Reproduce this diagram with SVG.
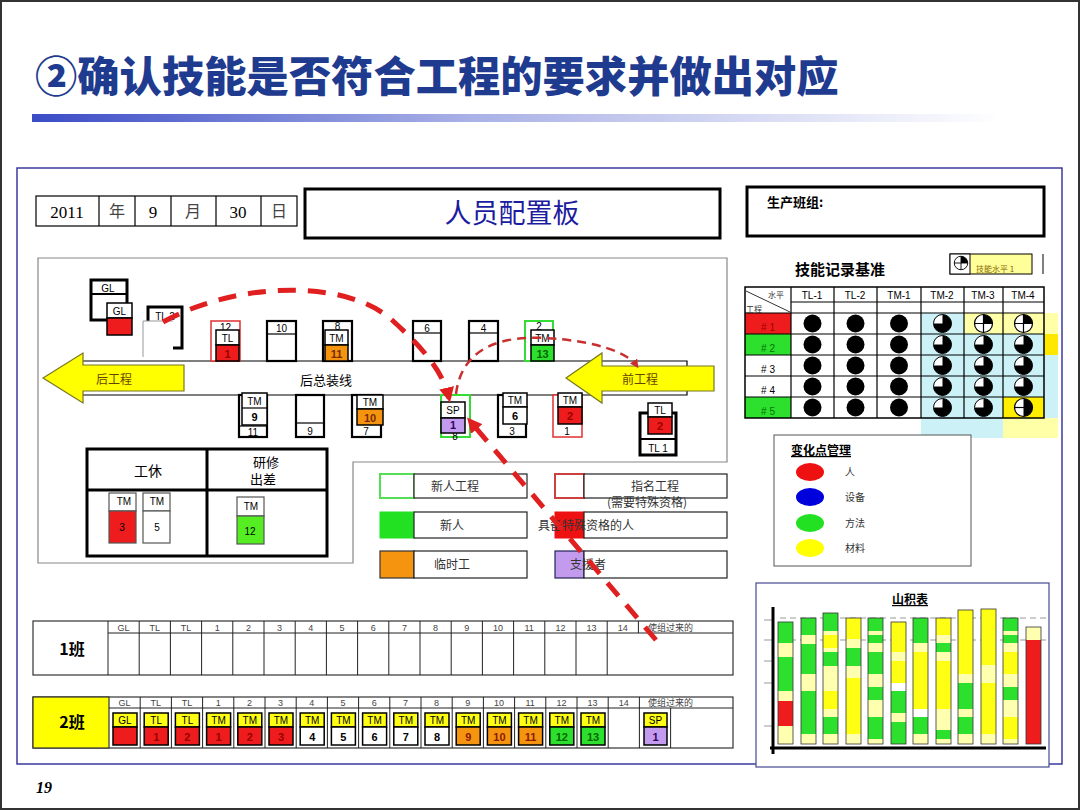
<svg xmlns="http://www.w3.org/2000/svg" width="1080" height="810" viewBox="0 0 1080 810">
<style>
.cjk{font-family:"Noto Sans CJK SC","Noto Sans",sans-serif}
.lat{font-family:"Liberation Sans",Arial,sans-serif}
.ser{font-family:"Liberation Serif","Noto Sans CJK SC",serif}
.st{fill:#fff;stroke:#000;stroke-width:2.2}
.cd{stroke:#000;stroke-width:1.5}
.ln{stroke:#000;stroke-width:1.2;fill:none}
.tl{stroke:#222;stroke-width:1;fill:none}
.hd{font-family:"Liberation Sans",Arial,sans-serif;font-size:9px;fill:#444;text-anchor:middle}
.tm{font-family:"Liberation Sans",Arial,sans-serif;font-size:10px;fill:#000;text-anchor:middle}
.nm{font-family:"Liberation Sans",Arial,sans-serif;font-size:11px;font-weight:bold;text-anchor:middle}
.lg{font-family:"Noto Sans CJK SC",sans-serif;font-size:12px;fill:#333;text-anchor:middle}
.G{fill:#2EE02E}.Y{fill:#FFFF14}.L{fill:#FFFFB0}.R{fill:#EE1C1C}.W{fill:#FFFFFF}.O{fill:#F5950F}.P{fill:#C39BEE}
</style>
<defs>
<linearGradient id="gbar" x1="0" x2="1" y1="0" y2="0"><stop offset="0" stop-color="#3B4CC6"/><stop offset="0.45" stop-color="#A9B1E6"/><stop offset="1" stop-color="#FFFFFF"/></linearGradient>
<marker id="ah" viewBox="0 0 10 10" refX="7" refY="5" markerWidth="3" markerHeight="3" orient="auto"><path d="M0,0 L10,5 L0,10 Z" fill="#E02020"/></marker>
<marker id="ah2" viewBox="0 0 10 10" refX="7" refY="5" markerWidth="3.5" markerHeight="3.5" orient="auto"><path d="M0,0 L10,5 L0,10 Z" fill="#C83030"/></marker>
<g id="cf"><circle r="9" fill="#000"/></g>
<g id="c3"><circle r="9" fill="#fff" stroke="#000" stroke-width="1"/><path d="M0,0 V-9 A9,9 0 1 1 -9,0 Z" fill="#000"/></g>
<g id="c1"><circle r="9" fill="#fff" stroke="#000" stroke-width="1.2"/><path d="M0,0 V-9 A9,9 0 0 1 9,0 Z" fill="#000"/><path d="M-9,0 H9 M0,-9 V9" stroke="#000" stroke-width="1.2"/></g>
<g id="c2"><circle r="9" fill="#fff" stroke="#000" stroke-width="1.2"/><path d="M0,-9 A9,9 0 0 1 0,9 Z" fill="#000"/><path d="M-9,0 H9" stroke="#000" stroke-width="1.2"/></g>
</defs>

<rect x="0" y="0" width="1080" height="810" fill="#fff"/>
<rect x="1" y="1" width="1078" height="808" fill="none" stroke="#333" stroke-width="2"/>

<g id="title">
<text x="35" y="92" class="cjk" font-size="42.3" font-weight="900" fill="#1F3B8F">②确认技能是否符合工程的要求并做出对应</text>
<rect x="32" y="114" width="970" height="8" fill="url(#gbar)"/>
</g>

<rect id="frame" x="17" y="168" width="1045" height="596" fill="none" stroke="#3A3AA0" stroke-width="1.5"/>

<g id="date">
<rect x="36" y="196" width="261" height="30" fill="#fff" stroke="#000" stroke-width="1.2"/>
<path class="ln" d="M99,196 V226 M135,196 V226 M171,196 V226 M216,196 V226 M261,196 V226"/>
<text x="67" y="218" class="ser" font-size="17" text-anchor="middle">2011</text>
<text x="117" y="217" class="cjk" font-size="16" fill="#444" text-anchor="middle">年</text>
<text x="153" y="218" class="ser" font-size="17" text-anchor="middle">9</text>
<text x="193" y="217" class="cjk" font-size="16" fill="#444" text-anchor="middle">月</text>
<text x="238" y="218" class="ser" font-size="17" text-anchor="middle">30</text>
<text x="279" y="217" class="cjk" font-size="16" fill="#444" text-anchor="middle">日</text>
</g>

<g id="boardTitle">
<rect x="305" y="189" width="415" height="49" fill="#fff" stroke="#000" stroke-width="3"/>
<text x="512" y="223" class="cjk" font-size="27" fill="#1C1CA0" text-anchor="middle">人员配置板</text>
</g>

<g id="team">
<rect x="747" y="187" width="297" height="49" fill="#fff" stroke="#000" stroke-width="3"/>
<text x="767" y="207" class="cjk" font-size="13" font-weight="bold">生产班组:</text>
</g>

<g id="skillTable">
<text x="795" y="275" class="cjk" font-size="15" font-weight="bold">技能记录基准</text>
<rect x="950" y="254" width="82" height="20" fill="#FFFF99" stroke="#000" stroke-width="1"/>
<rect x="950" y="254" width="20" height="20" fill="#fff" stroke="#000" stroke-width="1"/>
<use href="#c1" transform="translate(961,263) scale(0.75)"/>
<text x="976" y="272" class="cjk" font-size="8" fill="#886600">技能水平 1</text>
<line x1="1043" y1="254" x2="1043" y2="274" stroke="#000" stroke-width="1"/>
<rect x="921" y="313" width="82" height="125" fill="#CCF2F8"/>
<rect x="1003" y="334" width="55" height="84" fill="#CCF2F8"/>
<rect x="964" y="313" width="94" height="21" fill="#FFFFA8"/>
<rect x="1044" y="334" width="14" height="21" fill="#FFE800"/>
<rect x="1003" y="397" width="41" height="21" fill="#FFEE00"/>
<rect x="1003" y="418" width="55" height="20" fill="#FFFFA8"/>
<rect x="745" y="313" width="46" height="21" fill="#EE1C1C"/>
<rect x="745" y="334" width="46" height="21" fill="#2EE02E"/>
<rect x="745" y="397" width="46" height="21" fill="#2EE02E"/>
<rect x="745" y="287" width="299" height="131" fill="none" stroke="#000" stroke-width="1.5"/>
<path class="ln" d="M791,302 H1044 M745,313 H1044 M745,334 H1044 M745,355 H1044 M745,376 H1044 M745,397 H1044 M791,287 V418 M834,287 V418 M877,287 V418 M921,287 V418 M964,287 V418 M1003,287 V418"/>
<line x1="746" y1="291" x2="790" y2="312" stroke="#000" stroke-width="0.8"/>
<text x="776" y="298" class="cjk" font-size="8" fill="#333" text-anchor="middle">水平</text>
<text x="754" y="312" class="cjk" font-size="8" fill="#333" text-anchor="middle">工程</text>
<g class="lat" font-size="10" text-anchor="middle">
<text x="812" y="299">TL-1</text><text x="855" y="299">TL-2</text><text x="899" y="299">TM-1</text><text x="942" y="299">TM-2</text><text x="983" y="299">TM-3</text><text x="1023" y="299">TM-4</text>
<text x="768" y="331" fill="#A00000"># 1</text><text x="768" y="352" fill="#007000"># 2</text><text x="768" y="373"># 3</text><text x="768" y="394"># 4</text><text x="768" y="415" fill="#007000"># 5</text>
</g>
<use href="#cf" x="812.5" y="323.5"/><use href="#cf" x="855.5" y="323.5"/><use href="#cf" x="899" y="323.5"/><use href="#c3" x="942.5" y="323.5"/><use href="#c1" x="983.5" y="323.5"/><use href="#c1" x="1023.5" y="323.5"/>
<use href="#cf" x="812.5" y="344.5"/><use href="#cf" x="855.5" y="344.5"/><use href="#cf" x="899" y="344.5"/><use href="#c3" x="942.5" y="344.5"/><use href="#c3" x="983.5" y="344.5"/><use href="#c3" x="1023.5" y="344.5"/>
<use href="#cf" x="812.5" y="365.5"/><use href="#cf" x="855.5" y="365.5"/><use href="#cf" x="899" y="365.5"/><use href="#c3" x="942.5" y="365.5"/><use href="#c3" x="983.5" y="365.5"/><use href="#c3" x="1023.5" y="365.5"/>
<use href="#cf" x="812.5" y="386.5"/><use href="#cf" x="855.5" y="386.5"/><use href="#cf" x="899" y="386.5"/><use href="#c3" x="942.5" y="386.5"/><use href="#c3" x="983.5" y="386.5"/><use href="#c3" x="1023.5" y="386.5"/>
<use href="#cf" x="812.5" y="407.5"/><use href="#cf" x="855.5" y="407.5"/><use href="#cf" x="899" y="407.5"/><use href="#c3" x="942.5" y="407.5"/><use href="#c3" x="983.5" y="407.5"/><use href="#c2" x="1023.5" y="407.5"/>
</g>

<g id="changePoint">
<rect x="774" y="435" width="197" height="131" fill="#fff" stroke="#555" stroke-width="1"/>
<text x="791" y="455" class="cjk" font-size="12" font-weight="bold" text-decoration="underline">变化点管理</text>
<ellipse cx="810" cy="472" rx="14" ry="9" fill="#EE1111"/>
<ellipse cx="810" cy="497" rx="14" ry="9" fill="#0000DD"/>
<ellipse cx="810" cy="523" rx="14" ry="9" fill="#22E022"/>
<ellipse cx="810" cy="548" rx="14" ry="9" fill="#FFFF00"/>
<g class="cjk" font-size="10" fill="#333"><text x="845" y="476">人</text><text x="845" y="501">设备</text><text x="845" y="527">方法</text><text x="845" y="552">材料</text></g>
</g>

<g id="mountain">
<rect x="756" y="583" width="293" height="184" fill="#fff" stroke="#444A90" stroke-width="1.2"/>
<text x="910" y="604" class="cjk" font-size="12" font-weight="bold" text-anchor="middle" text-decoration="underline">山积表</text>
<path d="M780,618 H1050 M780,640 H1050" stroke="#999" stroke-width="1" stroke-dasharray="6 4" fill="none"/>
<path d="M764,620 H773 M764,640 H773 M764,661 H773 M764,683 H773 M764,726 H773" stroke="#999" stroke-width="1"/>
<g>
<rect x="778" y="622" width="15" height="21" class="G"/><rect x="778" y="643" width="15" height="14" class="L"/><rect x="778" y="657" width="15" height="34" class="G"/><rect x="778" y="691" width="15" height="10" class="L"/><rect x="778" y="701" width="15" height="25" class="R"/><rect x="778" y="726" width="15" height="18" class="L"/>
<rect x="801" y="618" width="15" height="17" class="G"/><rect x="801" y="635" width="15" height="9" class="L"/><rect x="801" y="644" width="15" height="30" class="G"/><rect x="801" y="674" width="15" height="17" class="L"/><rect x="801" y="691" width="15" height="43" class="G"/><rect x="801" y="734" width="15" height="10" class="L"/>
<rect x="823" y="613" width="15" height="18" class="G"/><rect x="823" y="631" width="15" height="4" class="L"/><rect x="823" y="635" width="15" height="13" class="Y"/><rect x="823" y="648" width="15" height="4" class="L"/><rect x="823" y="652" width="15" height="14" class="G"/><rect x="823" y="666" width="15" height="25" class="L"/><rect x="823" y="691" width="15" height="18" class="Y"/><rect x="823" y="709" width="15" height="8" class="L"/><rect x="823" y="717" width="15" height="17" class="G"/><rect x="823" y="734" width="15" height="10" class="L"/>
<rect x="846" y="618" width="15" height="21" class="Y"/><rect x="846" y="639" width="15" height="9" class="L"/><rect x="846" y="648" width="15" height="18" class="G"/><rect x="846" y="666" width="15" height="12" class="L"/><rect x="846" y="678" width="15" height="56" class="Y"/><rect x="846" y="734" width="15" height="10" class="L"/>
<rect x="868" y="618" width="15" height="13" class="G"/><rect x="868" y="631" width="15" height="4" class="L"/><rect x="868" y="635" width="15" height="8" class="G"/><rect x="868" y="643" width="15" height="9" class="L"/><rect x="868" y="652" width="15" height="22" class="G"/><rect x="868" y="674" width="15" height="13" class="L"/><rect x="868" y="687" width="15" height="13" class="G"/><rect x="868" y="700" width="15" height="17" class="L"/><rect x="868" y="717" width="15" height="22" class="G"/><rect x="868" y="739" width="15" height="5" class="L"/>
<rect x="891" y="622" width="15" height="30" class="Y"/><rect x="891" y="652" width="15" height="9" class="L"/><rect x="891" y="661" width="15" height="22" class="Y"/><rect x="891" y="683" width="15" height="8" class="W"/><rect x="891" y="691" width="15" height="22" class="G"/><rect x="891" y="713" width="15" height="9" class="L"/><rect x="891" y="722" width="15" height="22" class="G"/>
<rect x="913" y="618" width="15" height="25" class="G"/><rect x="913" y="643" width="15" height="9" class="L"/><rect x="913" y="652" width="15" height="57" class="Y"/><rect x="913" y="709" width="15" height="8" class="W"/><rect x="913" y="717" width="15" height="17" class="G"/><rect x="913" y="734" width="15" height="10" class="L"/>
<rect x="936" y="618" width="15" height="17" class="Y"/><rect x="936" y="635" width="15" height="8" class="L"/><rect x="936" y="643" width="15" height="9" class="G"/><rect x="936" y="652" width="15" height="9" class="L"/><rect x="936" y="661" width="15" height="48" class="Y"/><rect x="936" y="709" width="15" height="21" class="L"/><rect x="936" y="730" width="15" height="9" class="G"/><rect x="936" y="739" width="15" height="5" class="L"/>
<rect x="958" y="610" width="15" height="64" class="Y"/><rect x="958" y="674" width="15" height="9" class="L"/><rect x="958" y="683" width="15" height="26" class="G"/><rect x="958" y="709" width="15" height="8" class="L"/><rect x="958" y="717" width="15" height="17" class="G"/><rect x="958" y="734" width="15" height="10" class="L"/>
<rect x="981" y="609" width="15" height="56" class="Y"/><rect x="981" y="665" width="15" height="18" class="L"/><rect x="981" y="683" width="15" height="51" class="Y"/><rect x="981" y="734" width="15" height="10" class="L"/>
<rect x="1003" y="618" width="15" height="13" class="G"/><rect x="1003" y="631" width="15" height="4" class="L"/><rect x="1003" y="635" width="15" height="8" class="G"/><rect x="1003" y="643" width="15" height="9" class="L"/><rect x="1003" y="652" width="15" height="22" class="Y"/><rect x="1003" y="674" width="15" height="13" class="L"/><rect x="1003" y="687" width="15" height="13" class="G"/><rect x="1003" y="700" width="15" height="17" class="L"/><rect x="1003" y="717" width="15" height="22" class="Y"/><rect x="1003" y="739" width="15" height="5" class="L"/>
<rect x="1026" y="627" width="15" height="13" class="L"/><rect x="1026" y="640" width="15" height="104" class="R"/>
</g>
<g fill="none" stroke="#333" stroke-width="0.8">
<rect x="778" y="622" width="15" height="122"/><rect x="801" y="618" width="15" height="126"/><rect x="823" y="613" width="15" height="131"/><rect x="846" y="618" width="15" height="126"/><rect x="868" y="618" width="15" height="126"/><rect x="891" y="622" width="15" height="122"/><rect x="913" y="618" width="15" height="126"/><rect x="936" y="618" width="15" height="126"/><rect x="958" y="610" width="15" height="134"/><rect x="981" y="609" width="15" height="135"/><rect x="1003" y="618" width="15" height="126"/><rect x="1026" y="627" width="15" height="117"/>
</g>
<line x1="773" y1="607" x2="773" y2="754" stroke="#000" stroke-width="3"/>
<line x1="770" y1="748" x2="1046" y2="748" stroke="#000" stroke-width="3"/>
</g>

<g id="layout">
<path d="M38,258 H727 V462 H353 V563 H38 Z" fill="#fff" stroke="#888" stroke-width="1.2"/>
<path class="ln" d="M83,361 H687 V366 M83,395 H687 V391"/>
<text x="326" y="385" class="cjk" font-size="13" text-anchor="middle">后总装线</text>
</g>

<g id="arrowBack">
<path d="M43,378 L83,353 V365 H184 V391 H83 V403 Z" fill="#FFFF00" stroke="#777722" stroke-width="1.2"/>
<text x="114" y="384" class="cjk" font-size="12" fill="#664400" text-anchor="middle">后工程</text>
</g>
<g id="arrowFront">
<path d="M566,378 L602,353 V366 H714 V391 H602 V403 Z" fill="#FFFF00" stroke="#777722" stroke-width="1.2"/>
<text x="640" y="384" class="cjk" font-size="12" fill="#664400" text-anchor="middle">前工程</text>
</g>

<g id="stGL">
<rect x="91" y="280" width="36" height="40" fill="#fff" stroke="#000" stroke-width="3"/>
<line x1="91" y1="294" x2="127" y2="294" stroke="#000" stroke-width="2"/>
<text x="108" y="292" class="tm">GL</text>
<rect x="107" y="303" width="25" height="15" fill="#fff" class="cd"/>
<rect x="107" y="318" width="25" height="17" class="cd R"/>
<text x="119.5" y="315" class="tm">GL</text>
</g>
<g id="stTL2">
<rect x="148" y="307" width="34" height="41" fill="#fff" stroke="#000" stroke-width="3"/>
<text x="165" y="320" class="tm">TL 2</text>
<rect x="143" y="321" width="30" height="36" fill="#fff"/>
<path d="M143,357 V321 H173" fill="none" stroke="#999" stroke-width="1"/>
</g>
<g id="st12">
<rect x="211" y="321" width="29" height="40" fill="#fff" stroke="#E03030" stroke-width="1.5"/>
<text x="225.5" y="331" class="tm">12</text>
<rect x="216" y="330" width="23" height="15" fill="#fff" class="cd"/>
<rect x="216" y="345" width="23" height="16" class="cd R"/>
<text x="227.5" y="342" class="tm">TL</text><text x="227.5" y="358" class="nm" fill="#900">1</text>
</g>
<g id="st10">
<rect x="267" y="321" width="29" height="40" class="st"/>
<line x1="267" y1="334" x2="296" y2="334" stroke="#000" stroke-width="1.2"/>
<text x="281.5" y="332" class="tm">10</text>
</g>
<g id="st8">
<rect x="323" y="321" width="29" height="40" class="st"/>
<text x="337.5" y="330" class="tm">8</text>
<rect x="325" y="330" width="23" height="15" fill="#fff" class="cd"/>
<rect x="325" y="345" width="23" height="16" class="cd O"/>
<text x="336.5" y="342" class="tm">TM</text><text x="336.5" y="358" class="nm" fill="#7A2A00">11</text>
</g>
<g id="st6">
<rect x="413" y="321" width="28" height="40" class="st"/>
<line x1="413" y1="333" x2="441" y2="333" stroke="#000" stroke-width="1.2"/>
<text x="427" y="332" class="tm">6</text>
</g>
<g id="st4">
<rect x="469" y="321" width="29" height="40" class="st"/>
<line x1="469" y1="333" x2="498" y2="333" stroke="#000" stroke-width="1.2"/>
<text x="483.5" y="332" class="tm">4</text>
</g>
<g id="st2">
<rect x="525" y="321" width="28" height="40" fill="#fff" stroke="#33DD33" stroke-width="2"/>
<text x="539" y="330" class="tm">2</text>
<rect x="531" y="330" width="23" height="15" fill="#fff" class="cd"/>
<rect x="531" y="345" width="23" height="16" class="cd G"/>
<text x="542.5" y="342" class="tm">TM</text><text x="542.5" y="358" class="nm" fill="#006600">13</text>
</g>
<g id="st11">
<rect x="239" y="395" width="28" height="42" class="st"/>
<line x1="239" y1="426" x2="267" y2="426" stroke="#000" stroke-width="1.2"/>
<text x="253" y="436" class="tm">11</text>
<rect x="242" y="393" width="25" height="32" fill="#fff" class="cd"/>
<line x1="242" y1="408" x2="267" y2="408" stroke="#000" stroke-width="1.2"/>
<text x="254.5" y="405" class="tm">TM</text><text x="254.5" y="421" class="nm">9</text>
</g>
<g id="st9">
<rect x="296" y="395" width="28" height="42" class="st"/>
<line x1="296" y1="423" x2="324" y2="423" stroke="#000" stroke-width="1.2"/>
<text x="310" y="435" class="tm">9</text>
</g>
<g id="st7">
<rect x="352" y="395" width="29" height="42" class="st"/>
<text x="366" y="435" class="tm">7</text>
<rect x="357" y="395" width="26" height="14" fill="#fff" class="cd"/>
<rect x="357" y="409" width="26" height="16" class="cd O"/>
<text x="370" y="406" class="tm">TM</text><text x="370" y="422" class="nm" fill="#7A2A00">10</text>
</g>
<g id="stSP">
<rect x="441" y="395" width="29" height="42" fill="#fff" stroke="#33DD33" stroke-width="2"/>
<text x="455" y="440" class="tm" font-size="6.5">8</text>
<rect x="441" y="402" width="24" height="16" fill="#fff" class="cd"/>
<rect x="441" y="418" width="24" height="15" class="cd P"/>
<text x="453" y="414" class="tm">SP</text><text x="453" y="429" class="nm" fill="#330066">1</text>
</g>
<g id="st3">
<rect x="498" y="395" width="28" height="42" class="st"/>
<text x="512" y="435" class="tm">3</text>
<rect x="503" y="393" width="24" height="14" fill="#fff" class="cd"/>
<rect x="503" y="407" width="24" height="17" fill="#fff" class="cd"/>
<text x="515" y="404" class="tm">TM</text><text x="515" y="420" class="nm">6</text>
</g>
<g id="st1">
<rect x="553" y="395" width="29" height="42" fill="#fff" stroke="#E03030" stroke-width="1.5"/>
<text x="567" y="435" class="tm">1</text>
<rect x="558" y="393" width="24" height="14" fill="#fff" class="cd"/>
<rect x="558" y="407" width="24" height="17" class="cd R"/>
<text x="570" y="404" class="tm">TM</text><text x="570" y="420" class="nm" fill="#900">2</text>
</g>
<g id="stTL1">
<rect x="640" y="413" width="36" height="42" fill="#fff" stroke="#000" stroke-width="3"/>
<line x1="640" y1="439" x2="676" y2="439" stroke="#000" stroke-width="2"/>
<text x="658" y="452" class="tm">TL 1</text>
<rect x="648" y="403" width="24" height="14" fill="#fff" class="cd"/>
<rect x="648" y="417" width="24" height="17" class="cd R"/>
<text x="660" y="414" class="tm">TL</text><text x="660" y="430" class="nm" fill="#900">2</text>
</g>

<g id="rest">
<rect x="87" y="449" width="240" height="107" fill="#fff" stroke="#000" stroke-width="3"/>
<path d="M207,449 V556 M87,490 H327" stroke="#000" stroke-width="3"/>
<text x="148" y="476" class="cjk" font-size="14" text-anchor="middle">工休</text>
<text x="266" y="467" class="cjk" font-size="13" text-anchor="middle">研修</text>
<text x="263" y="484" class="cjk" font-size="13" text-anchor="middle">出差</text>
<rect x="109" y="493" width="27" height="18" fill="#fff" stroke="#555" stroke-width="1.2"/>
<rect x="109" y="511" width="27" height="32" fill="#EE1C1C" stroke="#555" stroke-width="1.2"/>
<text x="124" y="505" class="tm" font-size="9">TM</text><text x="122" y="531" class="tm" fill="#C00000">3</text>
<rect x="143" y="493" width="27" height="18" fill="#fff" stroke="#555" stroke-width="1.2"/>
<rect x="143" y="511" width="27" height="32" fill="#fff" stroke="#555" stroke-width="1.2"/>
<text x="157" y="505" class="tm" font-size="9">TM</text><text x="157" y="531" class="tm">5</text>
<rect x="237" y="497" width="27" height="19" fill="#fff" stroke="#555" stroke-width="1.2"/>
<rect x="237" y="516" width="27" height="28" fill="#55EE22" stroke="#555" stroke-width="1.2"/>
<text x="251" y="510" class="tm" font-size="9">TM</text><text x="250" y="535" class="tm" font-size="9" fill="#114400">12</text>
</g>

<g id="legend">
<rect x="380" y="474" width="34" height="24" fill="#fff" stroke="#55DD55" stroke-width="2"/>
<rect x="414" y="474" width="113" height="24" fill="#fff" stroke="#222" stroke-width="1.2"/>
<text x="455" y="491" class="lg">新人工程</text>
<rect x="555" y="474" width="29" height="24" fill="#fff" stroke="#CC4040" stroke-width="2"/>
<rect x="584" y="474" width="143" height="24" fill="#fff" stroke="#222" stroke-width="1.2"/>
<text x="655" y="491" class="lg">指名工程</text>
<text x="647" y="507" class="lg">(需要特殊资格)</text>
<rect x="380" y="512" width="34" height="26" fill="#22E022" stroke="#22E022" stroke-width="1"/>
<rect x="414" y="512" width="113" height="26" fill="#fff" stroke="#222" stroke-width="1.2"/>
<text x="452" y="530" class="lg">新人</text>
<rect x="555" y="512" width="29" height="26" fill="#EE1111" stroke="#EE1111" stroke-width="1"/>
<rect x="584" y="512" width="143" height="26" fill="#fff" stroke="#222" stroke-width="1.2"/>
<text x="586" y="530" class="lg" text-anchor="start">具备特殊资格的人</text>
<rect x="380" y="551" width="34" height="27" fill="#F5950F" stroke="#333" stroke-width="1.2"/>
<rect x="414" y="551" width="113" height="27" fill="#fff" stroke="#222" stroke-width="1.2"/>
<text x="452" y="569" class="lg">临时工</text>
<rect x="555" y="551" width="29" height="27" fill="#C39BEE" stroke="#222255" stroke-width="1.2"/>
<rect x="584" y="551" width="143" height="27" fill="#fff" stroke="#222" stroke-width="1.2"/>
<text x="588" y="569" class="lg" text-anchor="start" fill="#222">支援者</text>
</g>

<g id="row1">
<rect x="33" y="621" width="700" height="54" fill="#fff" stroke="#333" stroke-width="1.2"/>
<path class="tl" d="M108,621 V675 M108,633 H733 M139.2,621 V675 M170.4,621 V675 M201.6,621 V675 M232.8,621 V675 M264,621 V675 M295.2,621 V675 M326.4,621 V675 M357.6,621 V675 M388.8,621 V675 M420,621 V675 M451.2,621 V675 M482.4,621 V675 M513.6,621 V675 M544.8,621 V675 M576,621 V675 M607.2,621 V675 M638.4,621 V633"/>
<text x="72" y="655" class="cjk" font-size="16" font-weight="bold" text-anchor="middle">1班</text>
<text x="123.6" y="631" class="hd">GL</text><text x="154.8" y="631" class="hd">TL</text><text x="186" y="631" class="hd">TL</text><text x="217.2" y="631" class="hd">1</text><text x="248.4" y="631" class="hd">2</text><text x="279.6" y="631" class="hd">3</text><text x="310.8" y="631" class="hd">4</text><text x="342" y="631" class="hd">5</text><text x="373.2" y="631" class="hd">6</text><text x="404.4" y="631" class="hd">7</text><text x="435.6" y="631" class="hd">8</text><text x="466.8" y="631" class="hd">9</text><text x="498" y="631" class="hd">10</text><text x="529.2" y="631" class="hd">11</text><text x="560.4" y="631" class="hd">12</text><text x="591.6" y="631" class="hd">13</text><text x="622.8" y="631" class="hd">14</text>
<text x="648" y="631" class="cjk" font-size="9" fill="#444">使组过来的</text>
</g>

<g id="row2">
<rect x="33" y="697" width="700" height="51" fill="#fff" stroke="#333" stroke-width="1.2"/>
<rect x="33" y="697" width="76" height="51" fill="#FFFF00" stroke="#333" stroke-width="1.2"/>
<path class="tl" d="M109,708 H733 M140.2,697 V748 M171.4,697 V748 M202.6,697 V748 M233.8,697 V748 M265,697 V748 M296.2,697 V748 M327.4,697 V748 M358.6,697 V748 M389.8,697 V748 M421,697 V748 M452.2,697 V748 M483.4,697 V748 M514.6,697 V748 M545.8,697 V748 M577,697 V748 M608.2,697 V748 M639.4,697 V748 M670.6,708 V748"/>
<text x="72" y="728" class="cjk" font-size="16" font-weight="bold" text-anchor="middle">2班</text>
<text x="124.6" y="706" class="hd">GL</text><text x="155.8" y="706" class="hd">TL</text><text x="187" y="706" class="hd">TL</text><text x="218.2" y="706" class="hd">1</text><text x="249.4" y="706" class="hd">2</text><text x="280.6" y="706" class="hd">3</text><text x="311.8" y="706" class="hd">4</text><text x="343" y="706" class="hd">5</text><text x="374.2" y="706" class="hd">6</text><text x="405.4" y="706" class="hd">7</text><text x="436.6" y="706" class="hd">8</text><text x="467.8" y="706" class="hd">9</text><text x="499" y="706" class="hd">10</text><text x="530.2" y="706" class="hd">11</text><text x="561.4" y="706" class="hd">12</text><text x="592.6" y="706" class="hd">13</text><text x="623.8" y="706" class="hd">14</text>
<text x="648" y="706" class="cjk" font-size="9" fill="#444">使组过来的</text>
<g class="cd">
<rect x="113" y="713" width="24" height="14" class="Y"/><rect x="113" y="727" width="24" height="18" class="R"/>
<rect x="144.2" y="713" width="24" height="14" class="Y"/><rect x="144.2" y="727" width="24" height="18" class="R"/>
<rect x="175.4" y="713" width="24" height="14" class="Y"/><rect x="175.4" y="727" width="24" height="18" class="R"/>
<rect x="206.6" y="713" width="24" height="14" class="Y"/><rect x="206.6" y="727" width="24" height="18" class="R"/>
<rect x="237.8" y="713" width="24" height="14" class="Y"/><rect x="237.8" y="727" width="24" height="18" class="R"/>
<rect x="269" y="713" width="24" height="14" class="Y"/><rect x="269" y="727" width="24" height="18" class="R"/>
<rect x="300.2" y="713" width="24" height="14" class="Y"/><rect x="300.2" y="727" width="24" height="18" class="W"/>
<rect x="331.4" y="713" width="24" height="14" class="Y"/><rect x="331.4" y="727" width="24" height="18" class="W"/>
<rect x="362.6" y="713" width="24" height="14" class="Y"/><rect x="362.6" y="727" width="24" height="18" class="W"/>
<rect x="393.8" y="713" width="24" height="14" class="Y"/><rect x="393.8" y="727" width="24" height="18" class="W"/>
<rect x="425" y="713" width="24" height="14" class="Y"/><rect x="425" y="727" width="24" height="18" class="W"/>
<rect x="456.2" y="713" width="24" height="14" class="Y"/><rect x="456.2" y="727" width="24" height="18" class="O"/>
<rect x="487.4" y="713" width="24" height="14" class="Y"/><rect x="487.4" y="727" width="24" height="18" class="O"/>
<rect x="518.6" y="713" width="24" height="14" class="Y"/><rect x="518.6" y="727" width="24" height="18" class="O"/>
<rect x="549.8" y="713" width="24" height="14" class="Y"/><rect x="549.8" y="727" width="24" height="18" class="G"/>
<rect x="581" y="713" width="24" height="14" class="Y"/><rect x="581" y="727" width="24" height="18" class="G"/>
<rect x="644" y="713" width="23" height="14" class="Y"/><rect x="644" y="727" width="23" height="18" class="P"/>
</g>
<g class="tm">
<text x="125" y="724">GL</text><text x="156.2" y="724">TL</text><text x="187.4" y="724">TL</text><text x="218.6" y="724">TM</text><text x="249.8" y="724">TM</text><text x="281" y="724">TM</text><text x="312.2" y="724">TM</text><text x="343.4" y="724">TM</text><text x="374.6" y="724">TM</text><text x="405.8" y="724">TM</text><text x="437" y="724">TM</text><text x="468.2" y="724">TM</text><text x="499.4" y="724">TM</text><text x="530.6" y="724">TM</text><text x="561.8" y="724">TM</text><text x="593" y="724">TM</text><text x="655.5" y="724">SP</text>
</g>
<g class="nm">
<text x="156.2" y="741" fill="#900">1</text><text x="187.4" y="741" fill="#900">2</text><text x="218.6" y="741" fill="#900">1</text><text x="249.8" y="741" fill="#900">2</text><text x="281" y="741" fill="#900">3</text><text x="312.2" y="741">4</text><text x="343.4" y="741">5</text><text x="374.6" y="741">6</text><text x="405.8" y="741">7</text><text x="437" y="741">8</text><text x="468.2" y="741" fill="#8B1A00">9</text><text x="499.4" y="741" fill="#8B1A00">10</text><text x="530.6" y="741" fill="#8B1A00">11</text><text x="561.8" y="741" fill="#006600">12</text><text x="593" y="741" fill="#006600">13</text><text x="655.5" y="741" fill="#330066">1</text>
</g>
</g>

<g id="connectors" fill="none">
<path d="M163,322 C235,282 345,278 392,320 C425,350 443,372 449,398" stroke="#E02020" stroke-width="5" stroke-dasharray="18 12" marker-end="url(#ah)"/>
<path d="M656,640 L470,421" stroke="#E02020" stroke-width="5" stroke-dasharray="17 12" marker-end="url(#ah)"/>
<path d="M456,394 C462,345 505,336 545,338 C598,341 628,353 637,366" stroke="#C83030" stroke-width="2.5" stroke-dasharray="9 6" marker-end="url(#ah2)"/>
</g>

<text x="36" y="793" class="ser" font-size="16" font-style="italic" font-weight="bold">19</text>
</svg>
